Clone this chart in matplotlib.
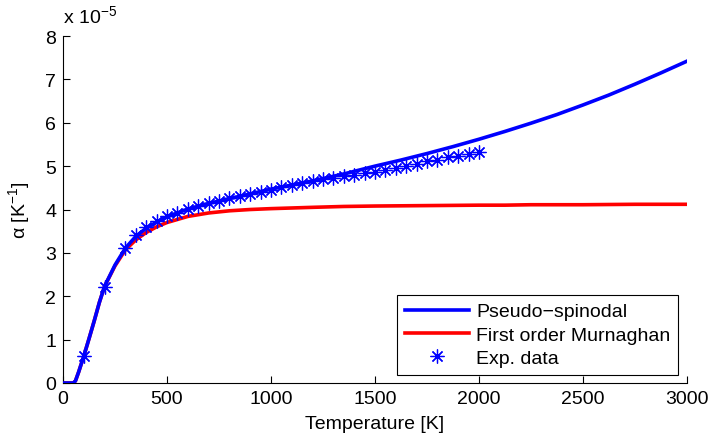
import matplotlib
matplotlib.use("Agg")
import matplotlib.pyplot as plt

plt.rcParams['font.family'] = ['Liberation Sans', 'DejaVu Sans']

# Model curves (alpha in units of 1e-5 K^-1)
T_curve = [0, 25, 50, 60, 75, 100, 125, 150, 175, 200, 250, 300, 350, 400, 450, 500,
           600, 700, 800, 900, 1000, 1200, 1350, 1500, 1625, 1750, 1875, 2000, 2125, 2250,
           2375, 2500, 2625, 2750, 2875, 3000]
alpha_spinodal = [0, 0, 0.0, 0.05, 0.25, 0.62, 1.02, 1.43, 1.86, 2.23, 2.72, 3.11, 3.38, 3.57, 3.71, 3.83,
                  4.01, 4.14, 4.25, 4.36, 4.47, 4.66, 4.82, 5.00, 5.14, 5.29, 5.45, 5.62, 5.80, 5.99,
                  6.19, 6.41, 6.64, 6.89, 7.15, 7.42]
alpha_murnaghan = [0, 0, 0.0, 0.05, 0.25, 0.62, 1.02, 1.43, 1.86, 2.23, 2.70, 3.07, 3.30, 3.47, 3.60, 3.70,
                   3.84, 3.92, 3.97, 4.00, 4.02, 4.05, 4.07, 4.08, 4.085, 4.09, 4.095, 4.10, 4.10, 4.11,
                   4.11, 4.11, 4.115, 4.12, 4.12, 4.12]

# Experimental data
T_exp = [100, 200, 300, 350, 400, 450, 500, 550, 600, 650, 700, 750, 800, 850, 900, 950,
         1000, 1050, 1100, 1150, 1200, 1250, 1300, 1350, 1400, 1450, 1500, 1550, 1600,
         1650, 1700, 1750, 1800, 1850, 1900, 1950, 2000]
alpha_exp = [0.62, 2.22, 3.11, 3.41, 3.60, 3.73, 3.84, 3.93, 4.01, 4.08, 4.15, 4.20, 4.26, 4.31, 4.36, 4.41,
             4.46, 4.52, 4.57, 4.62, 4.66, 4.70, 4.73, 4.77, 4.80, 4.84, 4.87, 4.91, 4.95,
             5.01, 5.06, 5.11, 5.15, 5.20, 5.24, 5.29, 5.33]

x_ticks = [0, 500, 1000, 1500, 2000, 2500, 3000]
y_ticks = [0, 1, 2, 3, 4, 5, 6, 7, 8]

FS = 14

fig = plt.figure(figsize=(7.10, 4.39), dpi=100)
ax = fig.add_axes([63/710, 1 - 384/439, (687 - 63)/710, (384 - 37)/439])

ax.plot(T_curve, alpha_spinodal, color='#0000ff', lw=2.6, label='Pseudo\u2212spinodal', zorder=3)
ax.plot(T_curve, alpha_murnaghan, color='#ff0000', lw=2.6, label='First order Murnaghan', zorder=2)
ax.plot(T_exp, alpha_exp, linestyle='none', marker=(8, 2, 0), markersize=10,
        markeredgewidth=0.9, color='#0000ff', markeredgecolor='#0000ff', label='Exp. data', zorder=4)

ax.set_xlim(0, 3000)
ax.set_ylim(0, 8)
ax.set_xticks(x_ticks)
ax.set_yticks(y_ticks)
ax.tick_params(direction='in', length=5, width=0.8, labelsize=FS, pad=5)
ax.spines['top'].set_visible(False)
ax.spines['right'].set_visible(False)
ax.spines['left'].set_linewidth(0.8)
ax.spines['bottom'].set_linewidth(0.8)

ax.set_xlabel('Temperature [K]', fontsize=FS, labelpad=6)
ax.set_ylabel('\u03b1 [K$^{\\mathregular{\u22121}}$]', fontsize=FS, labelpad=9)

fig.text(63/710, 1 - 17/439, 'x 10$^{\\mathregular{\u22125}}$', fontsize=FS,
         ha='left', va='center')

leg = ax.legend(loc='lower right', fontsize=FS, frameon=True, fancybox=False,
                edgecolor='black', framealpha=1, borderpad=0.4, labelspacing=0.3,
                handlelength=3.3, handletextpad=0.35, borderaxespad=0,
                bbox_to_anchor=(0.9856, 0.023))
leg.get_frame().set_linewidth(0.8)

fig.savefig('out.png', dpi=100)
